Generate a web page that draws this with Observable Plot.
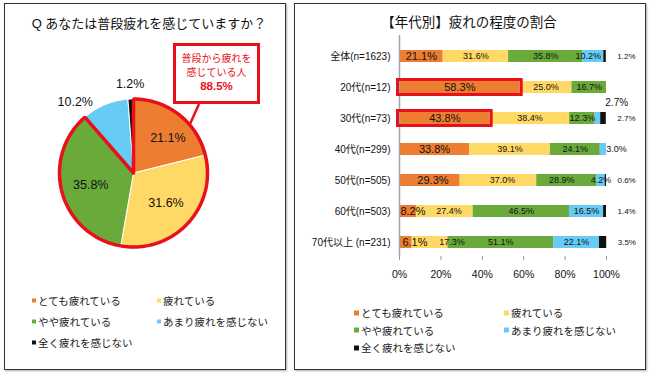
<!DOCTYPE html>
<html><head><meta charset="utf-8">
<script src="https://cdn.jsdelivr.net/npm/d3@7"></script>
<script src="https://cdn.jsdelivr.net/npm/@observablehq/plot@0.6"></script>
<style>
body{margin:0;background:#fff;font-family:"Liberation Sans",Arial,"Noto Sans CJK JP",sans-serif;color:#111}
#root{position:relative;width:650px;height:376px;overflow:hidden}
.panel{position:absolute;border:1px solid #333;box-shadow:1px 1px 2px #aaa;background:#fff;box-sizing:border-box}
.title{position:absolute;white-space:nowrap;transform:translate(-50%,-50%);color:#111}
.leg{position:absolute;font-size:10.5px;white-space:nowrap;transform:translateY(-50%);color:#222}
.leg i{display:inline-block;width:5px;height:5px;margin-right:2px;vertical-align:middle;position:relative;top:-1px}
.plotbox{position:absolute;left:0;top:0}
.callout{position:absolute;border:3px solid #e8101a;background:#fff;box-sizing:border-box;color:#e8101a;text-align:center}
</style></head><body><div id="root"></div>
<script>
// ---- data ----
const seriesNames = ["とても疲れている","疲れている","やや疲れている","あまり疲れを感じない","全く疲れを感じない"];
const seriesColors = ["#ED7D31","#FFD966","#6AAA3A","#66CCF5","#111111"];
const totalValues = [21.1,31.6,35.8,10.2,1.2];
const ageGroups = ["全体(n=1623)","20代(n=12)","30代(n=73)","40代(n=299)","50代(n=505)","60代(n=503)","70代以上 (n=231)"];
const veryTired   = [21.1,58.3,43.8,33.8,29.3, 8.2, 6.1];
const tired       = [31.6,25.0,38.4,39.1,37.0,27.4,17.3];
const someTired   = [35.8,16.7,12.3,24.1,28.9,46.5,51.1];
const littleTired = [10.2, 0.0, 2.7, 3.0, 4.2,16.5,22.1];
const notTired    = [ 1.2, 0.0, 2.7, 0.0, 0.6, 1.4, 3.5];
const xTicks = [0,20,40,60,80,100];
const highlightGroups = ["20代(n=12)","30代(n=73)"];
const pieTitle = "Q あなたは普段疲れを感じていますか？";
const barTitle = "【年代別】疲れの程度の割合";
const calloutLines = ["普段から疲れを","感じている人"];
const calloutValue = "88.5%";

// ---- styling / annotation tweaks (percentage-point nudges for label placement) ----
const RED = "#e8101a";
const FONT = '"Liberation Sans", Arial, "Noto Sans CJK JP", sans-serif';
const labelNudge = {"全体(n=1623)|3":-2.4,"40代(n=299)|3":6.3,"50代(n=505)|2":-2.4,"50代(n=505)|1":2,"50代(n=505)|0":1.5,
  "60代(n=503)|0":2.4,"60代(n=503)|1":2,"70代以上 (n=231)|0":4.4,"70代以上 (n=231)|1":10.6};

const root = document.getElementById("root");
function el(tag, cls, style, html){const e=document.createElement(tag); if(cls) e.className=cls; Object.assign(e.style, style||{}); if(html!=null) e.innerHTML=html; root.appendChild(e); return e;}

// panels
el("div","panel",{left:"4px",top:"3px",width:"282px",height:"367px"});
el("div","panel",{left:"294px",top:"3px",width:"352px",height:"367px"});
el("div","title",{left:"149px",top:"22px",fontSize:"13px"}, pieTitle);
el("div","title",{left:"469px",top:"21px",fontSize:"13.5px"}, barTitle);

// ---- pie ----
const tot = d3.sum(totalValues);
const cum = d3.cumsum(totalValues);
const slices = totalValues.map((v,i)=>({series:seriesNames[i], value:v, a0:(cum[i]-v)/tot, a1:cum[i]/tot}));
function sector(a0,a1,key){
  const pts=[{key,x:0,y:0}];
  const n=Math.max(2,Math.ceil((a1-a0)*360));
  for(let k=0;k<=n;k++){const t=2*Math.PI*(a0+(a1-a0)*k/n); pts.push({key,x:Math.sin(t),y:Math.cos(t)});}
  pts.push({key,x:0,y:0});
  return pts;
}
const piePts = slices.flatMap(s=>sector(s.a0,s.a1,s.series));
const hlEnd = cum[2]/tot;
const hlPts = sector(0,hlEnd,"hl");
const pieLabels = slices.map((s,i)=>{
  const m=2*Math.PI*(s.a0+s.a1)/2, outside = i>=3, r = outside?1.2:0.6;
  return {x:Math.sin(m)*r, y:Math.cos(m)*r, text:s.value.toFixed(1)+"%", i};
});
const cx=133, cy=172.5, R=74;
const pie = Plot.plot({
  width:290, height:270, margin:0,
  x:{domain:[-1,1], range:[cx-R,cx+R], axis:null},
  y:{domain:[-1,1], range:[cy+R,cy-R], axis:null},
  color:{domain:seriesNames, range:seriesColors},
  style:{background:"transparent", fontFamily:FONT, overflow:"visible"},
  marks:[
    Plot.line(piePts,{x:"x",y:"y",z:"key",fill:"key",stroke:"white",strokeWidth:1,curve:"linear"}),
    Plot.line(hlPts,{x:"x",y:"y",stroke:RED,strokeWidth:3.5,strokeLinejoin:"miter",curve:"linear"}),
    Plot.text(pieLabels.filter(d=>d.i===0),{x:"x",y:"y",text:"text",fontSize:12.5,dx:7,fill:"#111"}),
    Plot.text(pieLabels.filter(d=>d.i===1||d.i===2),{x:"x",y:"y",text:"text",fontSize:12.5,fill:"#111"}),
    Plot.text(pieLabels.filter(d=>d.i===3),{x:"x",y:"y",text:"text",fontSize:12.5,dx:-24,dy:11,fill:"#111"}),
    Plot.text(pieLabels.filter(d=>d.i===4),{x:"x",y:"y",text:"text",fontSize:12.5,fill:"#111"})
  ]
});
pie.classList.add("plotbox");
root.appendChild(pie);

// callout
const co = el("div","callout",{left:"173px",top:"43px",width:"87px",height:"61px"});
co.innerHTML = `<div style="font-size:10px;line-height:14px;margin-top:6px">${calloutLines[0]}<br>${calloutLines[1]}</div><div style="font-size:11.5px;font-weight:bold;line-height:13px">${calloutValue}</div>`;
const ns="http://www.w3.org/2000/svg";
const ov=document.createElementNS(ns,"svg"); ov.setAttribute("width",650); ov.setAttribute("height",376);
ov.style.position="absolute"; ov.style.left="0"; ov.style.top="0"; ov.style.pointerEvents="none";
const ln=document.createElementNS(ns,"line");
Object.entries({x1:199,y1:104,x2:190,y2:124,stroke:RED,"stroke-width":2.5}).forEach(([k,v])=>ln.setAttribute(k,v));
ov.appendChild(ln); root.appendChild(ov);

// left legend
const legPosL=[[32,300],[157,300],[32,321],[157,321],[32,342]];
seriesNames.forEach((s,i)=>el("div","leg",{left:legPosL[i][0]+"px",top:legPosL[i][1]+"px"},`<i style="background:${seriesColors[i]};width:4px;height:4px"></i>${s}`));

// ---- stacked bars ----
const seriesValues = [veryTired,tired,someTired,littleTired,notTired];
const rows = ageGroups.flatMap((g,gi)=>{
  let acc=0;
  return seriesNames.map((s,si)=>{const v=seriesValues[si][gi]; const r={group:g,series:s,si,value:v,start:acc}; acc+=v; return r;});
});
const inside = rows.filter(d=>d.value>0 && d.si<4 && !(d.group==="30代(n=73)"&&d.si===3))
  .map(d=>({...d, mid:d.start+d.value/2+(labelNudge[d.group+"|"+d.si]||0), text:d.value.toFixed(1)+"%"}));
const outsideBlack = rows.filter(d=>d.si===4 && d.value>0).map(d=>({...d,end:d.start+d.value,text:d.value.toFixed(1)+"%"}));
const aboveLabel = rows.filter(d=>d.group==="30代(n=73)"&&d.si===3).map(d=>({...d,end:d.start+d.value,text:d.value.toFixed(1)+"%"}));
const hl = rows.filter(d=>highlightGroups.includes(d.group)&&d.si===0);

const bars = Plot.plot({
  width:345, height:290, marginTop:35, marginBottom:34, marginLeft:99, marginRight:39,
  x:{domain:[0,100]},
  y:{domain:ageGroups, range:[37.4,260.2], paddingInner:0.62, paddingOuter:0.3},
  color:{domain:seriesNames, range:seriesColors},
  style:{background:"transparent", fontFamily:FONT, color:"#111", overflow:"visible"},
  marks:[
    Plot.barX(rows, Plot.stackX({x:"value", y:"group", z:"series", fill:"series", order:seriesNames})),
    Plot.ruleX([0],{stroke:"#9aa4ae",strokeWidth:1.5}),
    Plot.axisX({ticks:xTicks, tickFormat:d=>d+"%", tickSize:4, tickPadding:10, stroke:"#999", fill:"#111", fontSize:10.5, label:null}),
    Plot.axisY({tickSize:0, tickPadding:9, fontSize:10, label:null, fill:"#111"}),
    Plot.barX(hl,{x:"value", y:"group", fill:"none", stroke:RED, strokeWidth:3, inset:-1.5}),
    Plot.text(inside.filter(d=>d.si===0),{x:"mid", y:"group", text:"text", fontSize:11, fill:"#111"}),
    Plot.text(inside.filter(d=>d.si>0),{x:"mid", y:"group", text:"text", fontSize:9, fill:"#111"}),
    Plot.text(outsideBlack,{x:"end", y:"group", text:"text", fontSize:8, dx:11, textAnchor:"start", fill:"#111"}),
    Plot.text(aboveLabel,{x:"end", y:"group", text:"text", fontSize:10, dx:16, dy:-16, fill:"#111"})
  ]
});
bars.classList.add("plotbox");
bars.style.left="300px";
root.appendChild(bars);

// right legend
const legPosR=[[354,312],[504,312],[354,329.5],[504,329.5],[354,347]];
seriesNames.forEach((s,i)=>el("div","leg",{left:legPosR[i][0]+"px",top:legPosR[i][1]+"px"},`<i style="background:${seriesColors[i]}"></i>${s}`));
</script></body></html>
